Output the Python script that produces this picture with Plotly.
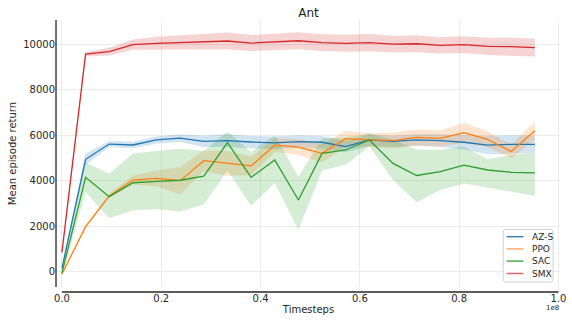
import plotly.graph_objects as go

# Evaluation checkpoints (in units of 1e8 environment steps)
steps_1e8 = [0.0, 0.0476, 0.0952, 0.1429, 0.1905, 0.2381, 0.2857, 0.3333, 0.3810, 0.4286,
             0.4762, 0.5238, 0.5714, 0.6190, 0.6667, 0.7143, 0.7619, 0.8095, 0.8571, 0.9048, 0.9524]

# Mean episode return per algorithm
azs_mean = [150, 4940, 5610, 5570, 5790, 5870, 5730, 5760, 5700, 5660, 5720,
            5690, 5500, 5790, 5730, 5790, 5760, 5690, 5560, 5600, 5600]
ppo_mean = [-100, 1980, 3330, 4030, 4100, 4000, 4880, 4760, 4650, 5560, 5480,
            5200, 5850, 5790, 5760, 5900, 5860, 6110, 5820, 5280, 6200]
sac_mean = [-60, 4150, 3300, 3910, 3970, 4020, 4200, 5670, 4150, 4910, 3150,
            5200, 5350, 5790, 4760, 4230, 4400, 4680, 4470, 4370, 4340]
smx_mean = [850, 9560, 9670, 9980, 10040, 10070, 10110, 10140, 10050, 10100, 10150,
            10070, 10040, 10070, 10000, 10020, 9950, 9980, 9900, 9890, 9850]

# Lower / upper edges of the shaded spread
azs_low = [70, 4690, 5480, 5430, 5640, 5700, 5480, 5480, 5430, 5380, 5440,
           5410, 5250, 5540, 5480, 5540, 5480, 5370, 5160, 5200, 5220]
azs_high = [230, 5190, 5740, 5710, 5940, 6040, 5980, 6040, 5970, 5940, 6000,
            5970, 5750, 6040, 5980, 6040, 6040, 6010, 5960, 6000, 5980]
ppo_low = [-130, 1930, 3250, 3830, 3750, 3400, 4430, 4210, 4250, 5260, 5130,
           4800, 5500, 5490, 5410, 5550, 5510, 5670, 5470, 4980, 5800]
ppo_high = [-70, 2030, 3410, 4230, 4450, 4600, 5330, 5310, 5050, 5860, 5830,
            5600, 6200, 6090, 6110, 6250, 6210, 6550, 6170, 5580, 6600]
sac_low = [-150, 3500, 2350, 2700, 2750, 2650, 2950, 4450, 2900, 3900, 1830,
           4450, 4700, 5500, 4030, 3050, 3590, 3880, 3710, 3520, 3330]
sac_high = [50, 4800, 4300, 5200, 5300, 5400, 5300, 6150, 5270, 6000, 4170,
            5860, 5900, 6080, 5800, 5370, 5350, 5500, 4940, 5130, 5230]
smx_low = [800, 9460, 9500, 9750, 9750, 9740, 9760, 9770, 9700, 9740, 9780,
           9700, 9670, 9690, 9630, 9650, 9590, 9610, 9520, 9500, 9460]
smx_high = [900, 9660, 9840, 10210, 10330, 10400, 10460, 10510, 10400, 10460, 10520,
            10440, 10410, 10450, 10370, 10390, 10310, 10350, 10280, 10280, 10240]

names = ["AZ-S", "PPO", "SAC", "SMX"]
colors = ["#1f77b4", "#ff7f0e", "#2ca02c", "#d62728"]
band_colors = ["rgba(31,119,180,0.2)", "rgba(255,127,14,0.2)",
               "rgba(44,160,44,0.2)", "rgba(214,39,40,0.2)"]
legend_colors = ["#1f77b4", "#ffaa66", "#2ca02c", "#e06264"]

y_ticks = [0, 2000, 4000, 6000, 8000, 10000]
y_ticktext = ["0", "2000", "4000", "6000", "8000", "10000"]
x_ticks = [0.0, 0.2, 0.4, 0.6, 0.8, 1.0]
x_ticktext = ["0.0", "0.2", "0.4", "0.6", "0.8", "1.0"]

means = [azs_mean, ppo_mean, sac_mean, smx_mean]
lows = [azs_low, ppo_low, sac_low, smx_low]
highs = [azs_high, ppo_high, sac_high, smx_high]

timesteps = [s * 1e8 for s in steps_1e8]

W, H = 572, 320
ML, MR, MT, MB = 57, 6, 20, 33
PW, PH = W - ML - MR, H - MT - MB


def px_x(p):
    return (p - ML) / PW


def px_y(p):
    return (H - MB - p) / PH


fig = go.Figure()

# shaded spreads first, lines on top
for lo, hi, bc, nm in zip(lows, highs, band_colors, names):
    fig.add_trace(go.Scatter(
        x=timesteps + timesteps[::-1], y=hi + lo[::-1],
        fill="toself", fillcolor=bc, line=dict(width=0),
        mode="lines", hoverinfo="skip", showlegend=False, name=nm + " spread"))

for m, c, nm in zip(means, colors, names):
    fig.add_trace(go.Scatter(
        x=timesteps, y=m, mode="lines", line=dict(color=c, width=1.3),
        name=nm, showlegend=False))

axis_font = dict(family="DejaVu Sans", size=10, color="#262626")
grid = "#ebebeb"

fig.update_layout(
    width=W, height=H,
    margin=dict(l=ML, r=MR, t=MT, b=MB),
    paper_bgcolor="white", plot_bgcolor="white",
    font=dict(family="DejaVu Sans", size=10, color="#262626"),
    title=dict(text="Ant", x=0.5, xref="paper", xanchor="center",
               y=1 - 12.5 / H, yanchor="middle",
               font=dict(family="DejaVu Sans", size=12, color="#1a1a1a")),
    xaxis=dict(range=[-0.995e6, 1.003e8],
               tickvals=[t * 1e8 for t in x_ticks], ticktext=x_ticktext,
               tickfont=axis_font, ticks="", showline=False, zeroline=False,
               showgrid=True, gridcolor=grid, gridwidth=1,
               ticklabelstandoff=4, ticklabeloverflow="allow",
               title=dict(text="Timesteps", font=axis_font, standoff=2)),
    yaxis=dict(range=[-672, 11063], tickvals=y_ticks, ticktext=y_ticktext,
               tickfont=axis_font, ticks="", showline=False, zeroline=False,
               showgrid=True, gridcolor=grid, gridwidth=1,
               ticklabelstandoff=1, ticklabeloverflow="allow",
               title=dict(text="Mean episode return", font=axis_font, standoff=4)),
    showlegend=False,
)

shapes = []
# offset spines
shapes.append(dict(type="line", xref="paper", yref="paper",
                   x0=px_x(56), x1=px_x(56), y0=px_y(20), y1=px_y(287),
                   line=dict(color="#262626", width=1.3)))
shapes.append(dict(type="line", xref="paper", yref="paper",
                   x0=px_x(62), x1=px_x(564.5), y0=px_y(292), y1=px_y(292),
                   line=dict(color="#262626", width=1.3)))

# legend box
bx0, bx1, by0, by1 = 508.5, 559, 229.5, 282
r = 2.5
path = (f"M {px_x(bx0 + r)} {px_y(by0)} L {px_x(bx1 - r)} {px_y(by0)} "
        f"Q {px_x(bx1)} {px_y(by0)} {px_x(bx1)} {px_y(by0 + r)} "
        f"L {px_x(bx1)} {px_y(by1 - r)} "
        f"Q {px_x(bx1)} {px_y(by1)} {px_x(bx1 - r)} {px_y(by1)} "
        f"L {px_x(bx0 + r)} {px_y(by1)} "
        f"Q {px_x(bx0)} {px_y(by1)} {px_x(bx0)} {px_y(by1 - r)} "
        f"L {px_x(bx0)} {px_y(by0 + r)} "
        f"Q {px_x(bx0)} {px_y(by0)} {px_x(bx0 + r)} {px_y(by0)} Z")
shapes.append(dict(type="path", xref="paper", yref="paper", path=path,
                   fillcolor="rgba(255,255,255,0.8)",
                   line=dict(color="#d0d0d0", width=1), layer="above"))

annotations = []
entry_y = [236.7, 248.9, 261.1, 273.5]
for yy, c, nm in zip(entry_y, legend_colors, names):
    shapes.append(dict(type="line", xref="paper", yref="paper",
                       x0=px_x(512), x1=px_x(529), y0=px_y(yy), y1=px_y(yy),
                       line=dict(color=c, width=1.5 if nm in ("PPO", "SMX") else 1.3),
                       layer="above"))
    annotations.append(dict(text=nm, xref="paper", yref="paper",
                            x=px_x(535.5), y=px_y(yy), xanchor="left", yanchor="middle",
                            showarrow=False,
                            font=dict(family="DejaVu Sans", size=9, color="#262626")))

# scale factor of the x axis
annotations.append(dict(text="1e8", xref="paper", yref="paper",
                        x=px_x(558.5), y=px_y(308), xanchor="center", yanchor="middle",
                        showarrow=False,
                        font=dict(family="DejaVu Sans", size=7, color="#262626")))

fig.update_layout(shapes=shapes, annotations=annotations)

fig.write_html("out.html")
